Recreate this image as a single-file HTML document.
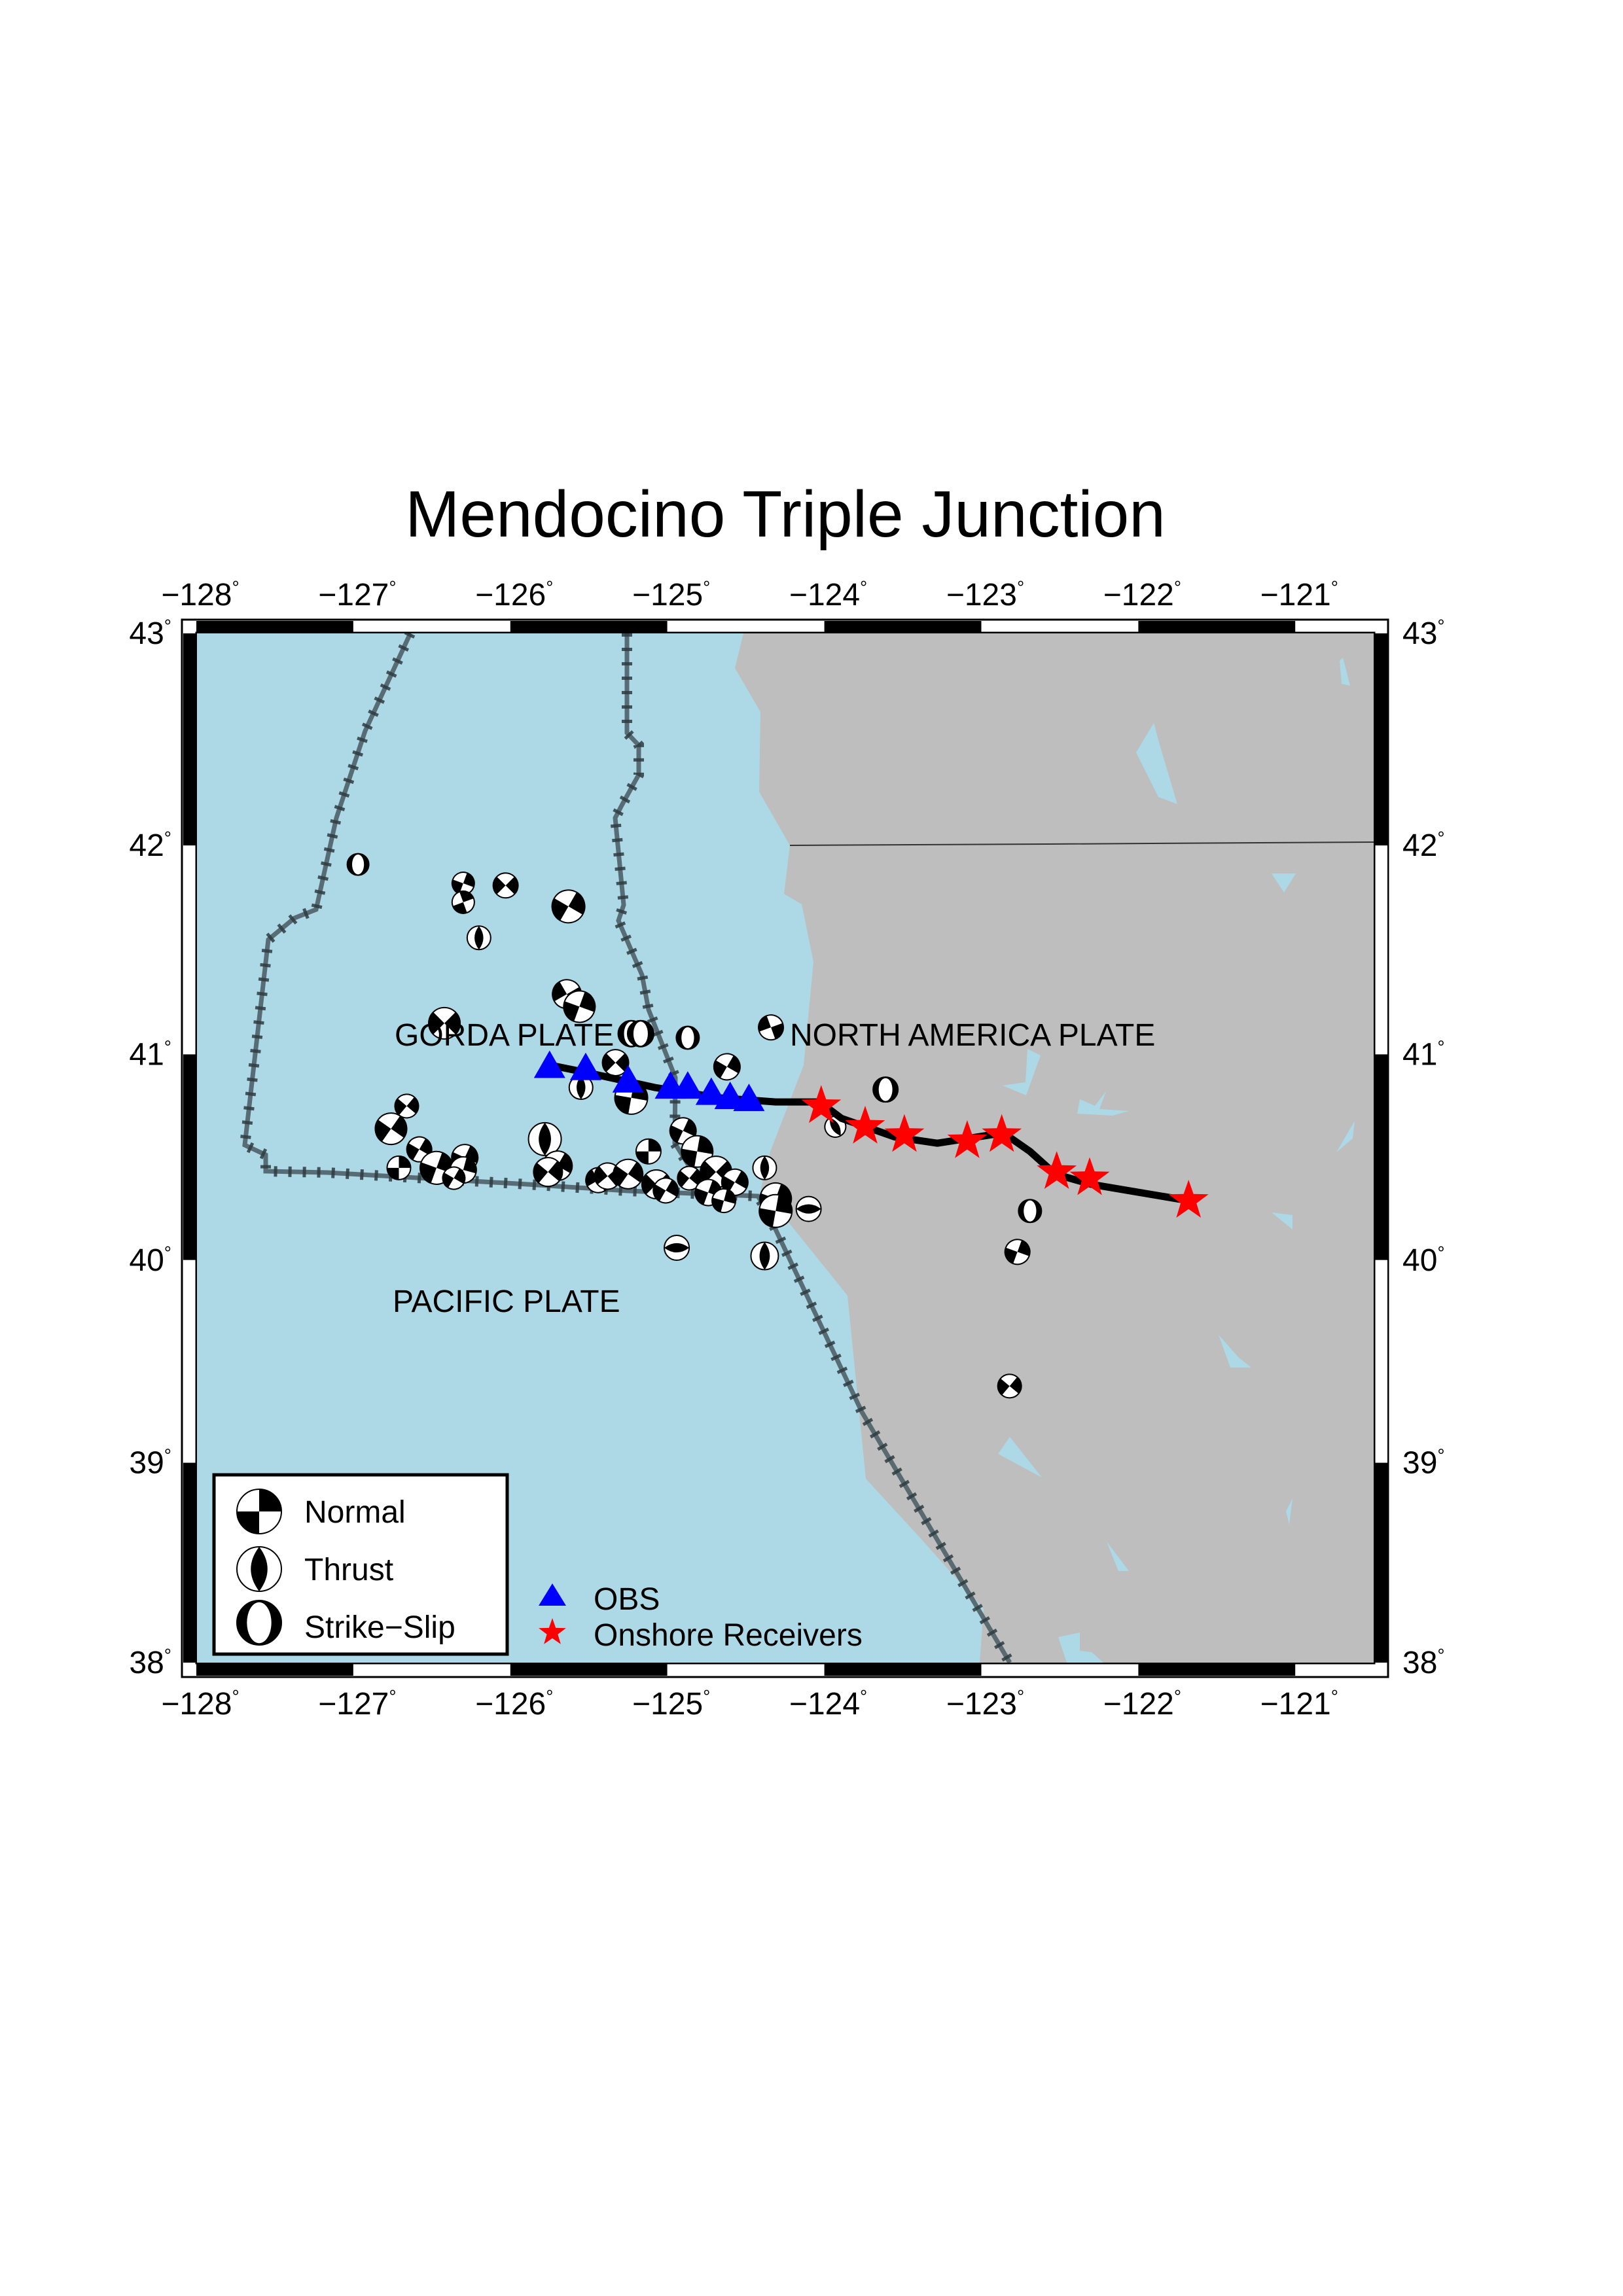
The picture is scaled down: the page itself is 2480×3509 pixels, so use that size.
<!DOCTYPE html>
<html><head><meta charset="utf-8"><title>Mendocino Triple Junction</title>
<style>html,body{margin:0;padding:0;background:#fff}svg{display:block}text{font-family:"Liberation Sans",sans-serif;fill:#000}</style>
</head><body>
<svg id="svg" width="2480" height="3509" viewBox="0 0 2480 3509" xmlns="http://www.w3.org/2000/svg">
<rect x="0" y="0" width="2480" height="3509" fill="#fff"/>
<text x="1200" y="820" font-size="100" text-anchor="middle">Mendocino Triple Junction</text>
<defs><clipPath id="mapclip"><rect x="301" y="968" width="1798" height="1573"/></clipPath></defs>
<g id="frame"></g>
<g clip-path="url(#mapclip)">
<rect x="301" y="968" width="1798" height="1573" fill="#add8e6"/>
<polygon fill="#bebebe" points="1136,968 1123,1021 1162,1088 1160,1210 1207,1292 1198,1366 1225,1382 1243,1470 1228,1628 1177,1760 1163,1816 1295,1980 1323,2260 1403,2347 1503,2459 1497,2541 2099,2541 2099,968"/>
<g fill="#add8e6">
<polygon points="2047,1010 2052,1005 2063,1048 2050,1045"/>
<polygon points="1736,1150 1763,1105 1772,1138 1799,1229 1770,1218"/>
<polygon points="1943,1335 1980,1335 1962,1364"/>
<polygon points="1570,1603 1590,1613 1568,1674 1532,1659 1567,1654"/>
<polygon points="1646,1702 1650,1680 1673,1690 1690,1668 1680,1695 1725,1698 1700,1705"/>
<polygon points="2042,1761 2070,1713 2067,1740"/>
<polygon points="1943,1853 1975,1857 1975,1879"/>
<polygon points="1862,2040 1893,2075 1912,2090 1880,2090"/>
<polygon points="1525,2222 1543,2196 1592,2258"/>
<polygon points="1691,2356 1709,2401 1725,2401"/>
<polygon points="1628,2520 1668,2525 1686,2541 1641,2541"/>
<polygon points="1617,2502 1650,2495 1650,2541 1630,2541"/>
<polygon points="1965,2310 1975,2290 1970,2330"/>
</g>
<polyline points="1207,1292 1600,1290 2099,1287" fill="none" stroke="#333" stroke-width="2"/>
<g id="faults"></g>
<g id="marks"></g>
<text x="603" y="1598" font-size="48">GORDA PLATE</text>
<text x="1207" y="1598" font-size="48">NORTH AMERICA PLATE</text>
<text x="600" y="2005" font-size="48">PACIFIC PLATE</text>
<g>
<rect x="327" y="2254" width="448" height="274" fill="#fff" stroke="#000" stroke-width="5"/>
<g id="legballs"></g>
<text x="465" y="2327" font-size="48">Normal</text>
<text x="465" y="2415" font-size="48">Thrust</text>
<text x="465" y="2503" font-size="48">Strike−Slip</text>
</g>
<g>
<polygon points="844,2420 823,2454 865,2454" fill="#0000ff"/>
<text x="907" y="2460" font-size="48">OBS</text>
<g id="legstar"></g>
<text x="907" y="2515" font-size="48">Onshore Receivers</text>
</g>
</g>
<g id="labels"></g>
</svg>
<script>
const NS='http://www.w3.org/2000/svg';
// ---- data ----
const ballLon=[-126.97,-126.30,-126.30,-126.03,-125.63,-126.20,-125.64,-125.56,-126.42,-125.23,-125.17,-124.87,-124.34,-125.33,-124.62,-125.55,-125.23,-126.66,-126.76,-126.58,-126.71,-126.47,-126.29,-126.30,-126.36,-125.78,-125.70,-125.76,-125.44,-125.38,-125.25,-125.12,-125.07,-125.01,-124.90,-124.81,-124.86,-124.69,-124.74,-124.57,-124.64,-124.38,-124.31,-124.31,-124.10,-124.94,-124.38,-123.93,-122.69,-122.77,-122.82,-123.61];
const ballLat=[41.91,41.82,41.73,41.81,41.71,41.56,41.29,41.23,41.15,41.10,41.10,41.08,41.13,40.96,40.94,40.84,40.79,40.75,40.64,40.54,40.45,40.45,40.50,40.44,40.40,40.59,40.46,40.43,40.39,40.41,40.42,40.53,40.37,40.34,40.63,40.53,40.40,40.43,40.33,40.38,40.29,40.45,40.30,40.24,40.25,40.06,40.02,40.65,40.24,40.04,39.38,40.83];
const ballSize=[33,34,34,38,50,36,44,48,48,40,40,35,38,40,40,36,50,36,48,38,36,50,40,40,34,50,45,44,38,40,45,38,44,38,40,48,36,48,40,40,36,36,48,50,38,38,42,32,35,38,36,38];
const ballType=[2,0,0,0,0,1,0,0,0,2,2,2,0,0,0,1,0,0,0,0,0,0,0,0,0,1,0,0,0,0,0,0,0,0,0,0,0,0,0,0,0,1,0,0,1,1,1,1,2,0,0,2];
const ballAngle=[0,20,-20,45,30,0,60,20,45,0,0,0,70,45,30,0,10,40,35,30,0,20,25,15,30,0,30,40,60,50,35,0,45,30,25,10,40,45,20,30,15,0,20,10,90,90,0,-30,0,20,40,0];
const obsLon=[-125.75,-125.52,-125.25,-124.98,-124.87,-124.72,-124.60,-124.48];
const obsLat=[40.93,40.92,40.86,40.83,40.83,40.80,40.78,40.77];
const rcvLon=[-124.02,-123.74,-123.49,-123.09,-122.87,-122.52,-122.31,-121.68];
const rcvLat=[40.75,40.65,40.61,40.58,40.61,40.43,40.40,40.29];
const lineLon=[-125.76,-125.50,-125.08,-124.67,-124.31,-124.03,-123.89,-123.55,-123.28,-122.86,-122.69,-122.53,-122.30,-121.68];
const lineLat=[40.95,40.91,40.84,40.79,40.77,40.77,40.69,40.60,40.57,40.62,40.53,40.42,40.37,40.29];
const lonTicks=[-128,-127,-126,-125,-124,-123,-122,-121];
const latTicks=[43,42,41,40,39,38];
// ---- projection ----
const M=l=>Math.log(Math.tan(Math.PI/4+l*Math.PI/360));
const K=1573/(M(43)-M(38));
const X=lon=>300+(lon+128)*239.9;
const Y=lat=>968+K*(M(43)-M(lat));
function el(t,a,p){const e=document.createElementNS(NS,t);for(const k in a)e.setAttribute(k,a[k]);(p||document.getElementById('svg')).appendChild(e);return e;}
// ---- frame ----
const fr=document.getElementById('frame');
el('rect',{x:278,y:947,width:1843,height:1616,fill:'#fff',stroke:'#000','stroke-width':3},fr);
for(let i=0;i<8;i++){const x0=X(-128+i),x1=Math.min(X(-127+i),2099);const c=i%2?'#fff':'#000';
 el('rect',{x:x0,y:949,width:x1-x0,height:18,fill:c},fr);el('rect',{x:x0,y:2542,width:x1-x0,height:19,fill:c},fr);}
for(let i=0;i<5;i++){const y0=Y(43-i),y1=Y(42-i);const c=i%2?'#fff':'#000';
 el('rect',{x:280,y:y0,width:20,height:y1-y0,fill:c},fr);el('rect',{x:2100,y:y0,width:20,height:y1-y0,fill:c},fr);}
el('rect',{x:300,y:967,width:1800,height:1575,fill:'none',stroke:'#000','stroke-width':3},fr);
// ---- faults ----
const fg=document.getElementById('faults');
const faults=["M627,968 L558,1117 L514,1250 L483,1390 L450,1403 L410,1436 L374,1750 L406,1765 L406,1790 L500,1792 L806,1810 L959,1820 L1158,1828 L1170,1847 L1317,2158 L1543,2541",
"M958,968 L958,1120 L976,1139 L976,1184 L951,1229 L940,1250 L953,1383 L945,1407 L981,1490 L991,1543 L1032,1647 L1031,1747 L1066,1803 L1080,1825"];
faults.forEach((d,i)=>{
 const a=el('path',{d:d,fill:'none',stroke:'#4e6168','stroke-width':7,'stroke-opacity':0.9},fg);
 
 
 const b=el('path',{d:d,fill:'none',stroke:'#2e3c40','stroke-width':16,'stroke-dasharray':'5 17','stroke-opacity':0.85},fg);
 
 
});
// ---- beachballs ----
function ball(parent,cx,cy,r,type,ang){
 const g=el('g',{transform:`translate(${cx},${cy}) rotate(${ang})`},parent);
 if(type===0){
  el('circle',{r:r,fill:'#fff'},g);
  el('path',{d:`M0,0 L0,${-r} A${r},${r} 0 0 1 ${r},0 Z M0,0 L0,${r} A${r},${r} 0 0 1 ${-r},0 Z`,fill:'#000'},g);
 }else if(type===1){
  el('circle',{r:r,fill:'#fff'},g);
  el('path',{d:`M0,${-r} Q${r*0.75},0 0,${r} Q${-r*0.75},0 0,${-r} Z`,fill:'#000'},g);
 }else{
  el('circle',{r:r,fill:'#000'},g);
  el('ellipse',{rx:r*0.55,ry:r*0.92,fill:'#fff'},g);
 }
 el('circle',{r:r,fill:'none',stroke:'#000','stroke-width':2},g);
 return g;
}
const mk=document.getElementById('marks');
ballLon.forEach((lon,i)=>{
 const g=ball(mk,X(lon),Y(ballLat[i]),ballSize[i]/2,ballType[i],ballAngle[i]);
 
 
});
// ---- seismic line ----
const pl=el('polyline',{points:lineLon.map((l,i)=>X(l)+','+Y(lineLat[i])).join(' '),fill:'none',stroke:'#000','stroke-width':11,'stroke-linejoin':'round'},mk);


// ---- OBS ----
obsLon.forEach((lon,i)=>{const x=X(lon),y=Y(obsLat[i]);
 const t=el('polygon',{points:`${x},${y-28} ${x-24},${y+14} ${x+24},${y+14}`,fill:'#0000ff'},mk);
 
 });
// ---- stars ----
function star(cx,cy,R){const p=[];for(let k=0;k<10;k++){const rr=k%2?R*0.4:R;const a=-Math.PI/2+k*Math.PI/5;p.push((cx+rr*Math.cos(a)).toFixed(1)+','+(cy+rr*Math.sin(a)).toFixed(1));}return p.join(' ');}
rcvLon.forEach((lon,i)=>{
 const s=el('polygon',{points:star(X(lon),Y(rcvLat[i]),32),fill:'#ff0000'},mk);
 
 });
// legend symbols
const lb=document.getElementById('legballs');
ball(lb,396,2310,34,0,0);ball(lb,396,2398,34,1,0);ball(lb,396,2480,34,2,0);
el('polygon',{points:star(844,2495,22),fill:'#ff0000'},document.getElementById('legstar'));
// ---- labels ----
const lab=document.getElementById('labels');
function deg(x,y,txt,anchor){const t=el('text',{x:x,y:y,'font-size':48,'text-anchor':anchor},lab);
 t.appendChild(document.createTextNode(txt));const s=el('tspan',{'font-size':28,dy:-18},t);s.textContent='°';return t;}
lonTicks.forEach(v=>{const s=(v<0?'−':'')+Math.abs(v);deg(X(v)+6,925,s,'middle');deg(X(v)+6,2620,s,'middle');});
latTicks.forEach(v=>{deg(262,Y(v)+16,String(v),'end');deg(2143,Y(v)+16,String(v),'start');});
</script>
</body></html>
